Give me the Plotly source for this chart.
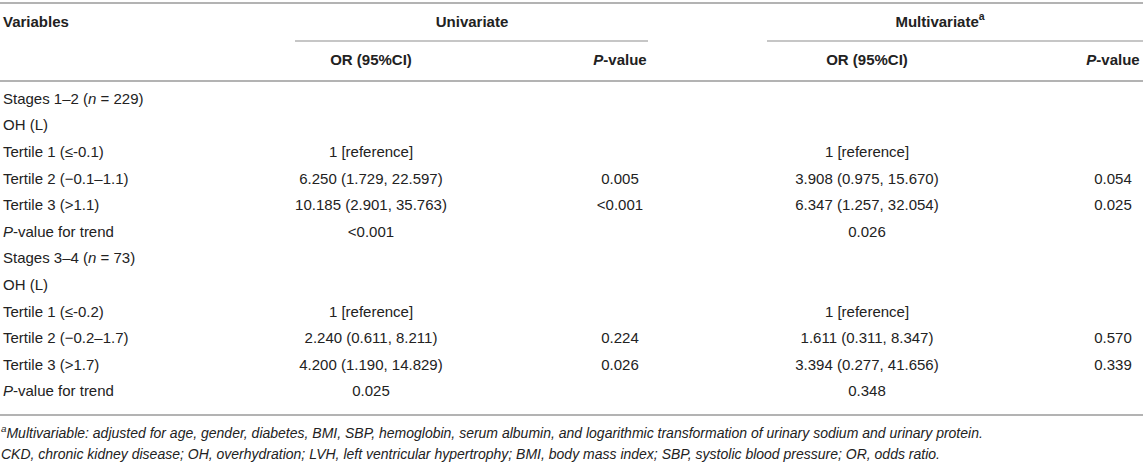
import plotly.graph_objects as go

# ---- table content ----
row_labels = [
    "Stages 1–2 (<i>n</i> = 229)",
    "OH (L)",
    "Tertile 1 (≤-0.1)",
    "Tertile 2 (−0.1–1.1)",
    "Tertile 3 (&gt;1.1)",
    "<i>P</i>-value for trend",
    "Stages 3–4 (<i>n</i> = 73)",
    "OH (L)",
    "Tertile 1 (≤-0.2)",
    "Tertile 2 (−0.2–1.7)",
    "Tertile 3 (&gt;1.7)",
    "<i>P</i>-value for trend",
]
uni_or = ["", "", "1 [reference]", "6.250 (1.729, 22.597)", "10.185 (2.901, 35.763)", "&lt;0.001",
          "", "", "1 [reference]", "2.240 (0.611, 8.211)", "4.200 (1.190, 14.829)", "0.025"]
uni_p = ["", "", "", "0.005", "&lt;0.001", "",
         "", "", "", "0.224", "0.026", ""]
multi_or = ["", "", "1 [reference]", "3.908 (0.975, 15.670)", "6.347 (1.257, 32.054)", "0.026",
            "", "", "1 [reference]", "1.611 (0.311, 8.347)", "3.394 (0.277, 41.656)", "0.348"]
multi_p = ["", "", "", "0.054", "0.025", "",
           "", "", "", "0.570", "0.339", ""]

header_top = ["<b>Variables</b>", "<b>Univariate</b>", "<b>Multivariate<sup>a</sup></b>"]
header_sub = ["<b>OR (95%CI)</b>", "<b><i>P</i>-value</b>", "<b>OR (95%CI)</b>", "<b><i>P</i>-value</b>"]

footnotes = [
    "<i><sup>a</sup>Multivariable: adjusted for age, gender, diabetes, BMI, SBP, hemoglobin, serum albumin, and logarithmic transformation of urinary sodium and urinary protein.</i>",
    "<i>CKD, chronic kidney disease; OH, overhydration; LVH, left ventricular hypertrophy; BMI, body mass index; SBP, systolic blood pressure; OR, odds ratio.</i>",
]

# ---- layout geometry (pixel-like units) ----
W, H = 1143, 463
x_label = 3
x_foot = 1
x_cols = [371, 620, 867, 1113]
x_head_uni = 472
x_head_multi = 940
y_head1 = 23
y_head2 = 61
y_row0 = 100
row_step = 26.6
y_rows = [y_row0 + i * row_step for i in range(len(row_labels))]
y_foot = [434, 455]

FONT = "Liberation Sans, Arial, Helvetica, sans-serif"
TXT = "#222222"
RULE = "#b3b3b3"
BODY = 15
FOOT = 14

fig = go.Figure()

def add_text(xs, ys, texts, pos, size=BODY):
    keep = [(x, y, t) for x, y, t in zip(xs, ys, texts) if t]
    fig.add_trace(go.Scatter(
        x=[k[0] for k in keep], y=[k[1] for k in keep], text=[k[2] for k in keep],
        mode="text", textposition=pos,
        textfont=dict(family=FONT, size=size, color=TXT),
        hoverinfo="skip", showlegend=False, cliponaxis=False,
    ))

# headers
add_text([x_label], [y_head1], [header_top[0]], "middle right")
add_text([x_head_uni, x_head_multi], [y_head1, y_head1], header_top[1:], "middle center")
add_text(x_cols, [y_head2] * 4, header_sub, "middle center")

# body
add_text([x_label] * len(row_labels), y_rows, row_labels, "middle right")
for xc, col in zip(x_cols, [uni_or, uni_p, multi_or, multi_p]):
    add_text([xc] * len(col), y_rows, col, "middle center")

# footnotes
add_text([x_foot] * 2, y_foot, footnotes, "middle right", size=FOOT)

# rules
shapes = [
    dict(type="line", x0=0, x1=W, y0=3, y1=3, line=dict(color=RULE, width=2)),
    dict(type="line", x0=295, x1=648, y0=41, y1=41, line=dict(color=RULE, width=1.5)),
    dict(type="line", x0=767, x1=W, y0=41, y1=41, line=dict(color=RULE, width=1.5)),
    dict(type="line", x0=0, x1=W, y0=81, y1=81, line=dict(color=RULE, width=2)),
    dict(type="line", x0=0, x1=W, y0=415, y1=415, line=dict(color=RULE, width=2)),
]
for s in shapes:
    s.update(xref="x", yref="y", layer="below")

fig.update_layout(
    width=W, height=H,
    margin=dict(l=0, r=0, t=0, b=0),
    paper_bgcolor="white", plot_bgcolor="white",
    xaxis=dict(range=[0, W], visible=False, fixedrange=True),
    yaxis=dict(range=[H, 0], visible=False, fixedrange=True),
    shapes=shapes,
)

fig.write_html(
    "out.html",
    config={"displayModeBar": False},
    post_script="document.body.style.margin='0px';document.body.style.overflow='hidden';",
)
